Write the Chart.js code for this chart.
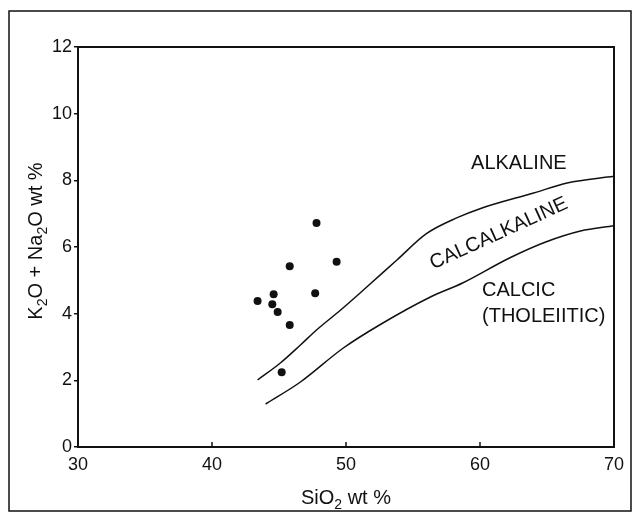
<!DOCTYPE html>
<html lang="en">
<head>
    <meta charset="UTF-8">
    <title>SiO2 vs alkalis</title>
    <script src="https://cdn.jsdelivr.net/npm/chart.js"></script>
    <style>
        body { margin: 0; background: #fff; }
        .chart-container { width: 635px; height: 514px; position: relative; }
    </style>
</head>
<body>
    <div class="chart-container">
        <canvas id="tasChart"></canvas>
    </div>
    <script>
        // samples (SiO2 wt %, K2O + Na2O wt %)
        const sampleSiO2 = [43.4, 44.5, 44.6, 44.9, 45.8, 45.8, 45.2, 47.7, 47.8, 49.3];
        const sampleAlk  = [4.38, 4.28, 4.58, 4.05, 5.42, 3.66, 2.24, 4.61, 6.72, 5.56];

        // alkaline / calcalkaline boundary
        const upperSiO2 = [43.4, 45.1, 46.6, 47.8, 49.6, 51.3, 53.8, 56.0, 58.3, 60.0, 64.0, 66.5, 70.0];
        const upperAlk  = [2.01, 2.52, 3.06, 3.51, 4.11, 4.71, 5.61, 6.40, 6.88, 7.15, 7.62, 7.92, 8.12];

        // calcalkaline / calcic boundary
        const lowerSiO2 = [44.0, 46.6, 49.8, 52.5, 56.3, 58.7, 62.2, 64.9, 67.5, 70.0];
        const lowerAlk  = [1.29, 1.95, 2.97, 3.66, 4.50, 4.92, 5.67, 6.15, 6.48, 6.64];

        const xTicks = [30, 40, 50, 60, 70];
        const yTicks = [0, 2, 4, 6, 8, 10, 12];

        // field labels: [text, SiO2, alk, rotation deg]
        const fieldLabels = [
            ['ALKALINE', 62.9, 8.5, 0],
            ['CALCALKALINE', 61.4, 6.4, -24.5],
        ];
        const calcicLabel = ['CALCIC', '(THOLEIITIC)'];

        const ink = '#111';
        const font = '"Liberation Sans", Arial, sans-serif';

        function toPoints(xs, ys) {
            return xs.map((x, i) => ({ x: x, y: ys[i] }));
        }

        // draw a string made of [text, isSub] parts, centred on x
        function richText(ctx, parts, x, y, size) {
            const subSize = Math.round(size * 0.7);
            let w = 0;
            parts.forEach(p => {
                ctx.font = (p[1] ? subSize : size) + 'px ' + font;
                w += ctx.measureText(p[0]).width;
            });
            let cx = x - w / 2;
            ctx.textAlign = 'left';
            ctx.textBaseline = 'alphabetic';
            parts.forEach(p => {
                ctx.font = (p[1] ? subSize : size) + 'px ' + font;
                ctx.fillText(p[0], cx, p[1] ? y + 5 : y);
                cx += ctx.measureText(p[0]).width;
            });
        }

        const decorPlugin = {
            id: 'decor',
            afterDraw(chart) {
                const ctx = chart.ctx;
                const a = chart.chartArea;
                const xs = chart.scales.x;
                const ys = chart.scales.y;
                ctx.save();
                ctx.strokeStyle = ink;
                ctx.fillStyle = ink;

                // plot frame
                ctx.lineWidth = 2;
                ctx.strokeRect(a.left, a.top, a.right - a.left, a.bottom - a.top);

                // outer frame
                ctx.lineWidth = 1.5;
                ctx.strokeRect(9, 11, 622, 500);

                // inward x ticks
                ctx.lineWidth = 1.5;
                xTicks.slice(1, -1).forEach(v => {
                    const px = xs.getPixelForValue(v);
                    ctx.beginPath();
                    ctx.moveTo(px, a.bottom);
                    ctx.lineTo(px, a.bottom - 5);
                    ctx.stroke();
                });

                // field labels
                ctx.font = '20px ' + font;
                ctx.textAlign = 'center';
                ctx.textBaseline = 'middle';
                fieldLabels.forEach(l => {
                    ctx.save();
                    ctx.translate(xs.getPixelForValue(l[1]), ys.getPixelForValue(l[2]));
                    ctx.rotate(l[3] * Math.PI / 180);
                    ctx.fillText(l[0], 0, 0);
                    ctx.restore();
                });
                ctx.textAlign = 'left';
                const lx = xs.getPixelForValue(60.15);
                ctx.fillText(calcicLabel[0], lx, ys.getPixelForValue(4.70));
                ctx.fillText(calcicLabel[1], lx, ys.getPixelForValue(3.93));

                // axis titles
                richText(ctx, [['SiO', 0], ['2', 1], [' wt %', 0]], (a.left + a.right) / 2, 504, 20);
                ctx.save();
                ctx.translate(42, 241);
                ctx.rotate(-Math.PI / 2);
                richText(ctx, [['K', 0], ['2', 1], ['O + Na', 0], ['2', 1], ['O wt %', 0]], 0, 0, 20);
                ctx.restore();

                ctx.restore();
            }
        };

        const ctx = document.getElementById('tasChart').getContext('2d');
        new Chart(ctx, {
            type: 'scatter',
            data: {
                datasets: [
                    {
                        label: 'samples',
                        data: toPoints(sampleSiO2, sampleAlk),
                        pointRadius: 4,
                        pointBackgroundColor: ink,
                        pointBorderWidth: 0,
                        showLine: false
                    },
                    {
                        label: 'upper',
                        data: toPoints(upperSiO2, upperAlk),
                        showLine: true,
                        borderColor: ink,
                        borderWidth: 1.5,
                        pointRadius: 0,
                        cubicInterpolationMode: 'monotone'
                    },
                    {
                        label: 'lower',
                        data: toPoints(lowerSiO2, lowerAlk),
                        showLine: true,
                        borderColor: ink,
                        borderWidth: 1.5,
                        pointRadius: 0,
                        cubicInterpolationMode: 'monotone'
                    }
                ]
            },
            options: {
                responsive: true,
                maintainAspectRatio: false,
                animation: false,
                layout: { padding: { left: 0, top: 47, right: 21, bottom: 0 } },
                plugins: {
                    legend: { display: false },
                    tooltip: { enabled: false }
                },
                scales: {
                    x: {
                        type: 'linear',
                        min: 30,
                        max: 70,
                        afterBuildTicks: s => { s.ticks = xTicks.map(v => ({ value: v })); },
                        afterFit: s => { s.height = 67; },
                        grid: { drawOnChartArea: false, drawTicks: false },
                        border: { display: false },
                        ticks: { color: ink, font: { family: font, size: 18 }, padding: 7, maxRotation: 0 }
                    },
                    y: {
                        type: 'linear',
                        min: 0,
                        max: 12,
                        afterBuildTicks: s => { s.ticks = yTicks.map(v => ({ value: v })); },
                        afterFit: s => { s.width = 78; },
                        grid: { drawOnChartArea: false, drawTicks: true, tickLength: 4, color: ink, lineWidth: 1.5 },
                        border: { display: false },
                        ticks: { color: ink, font: { family: font, size: 18 }, padding: 2 }
                    }
                }
            },
            plugins: [decorPlugin]
        });
    </script>
</body>
</html>
